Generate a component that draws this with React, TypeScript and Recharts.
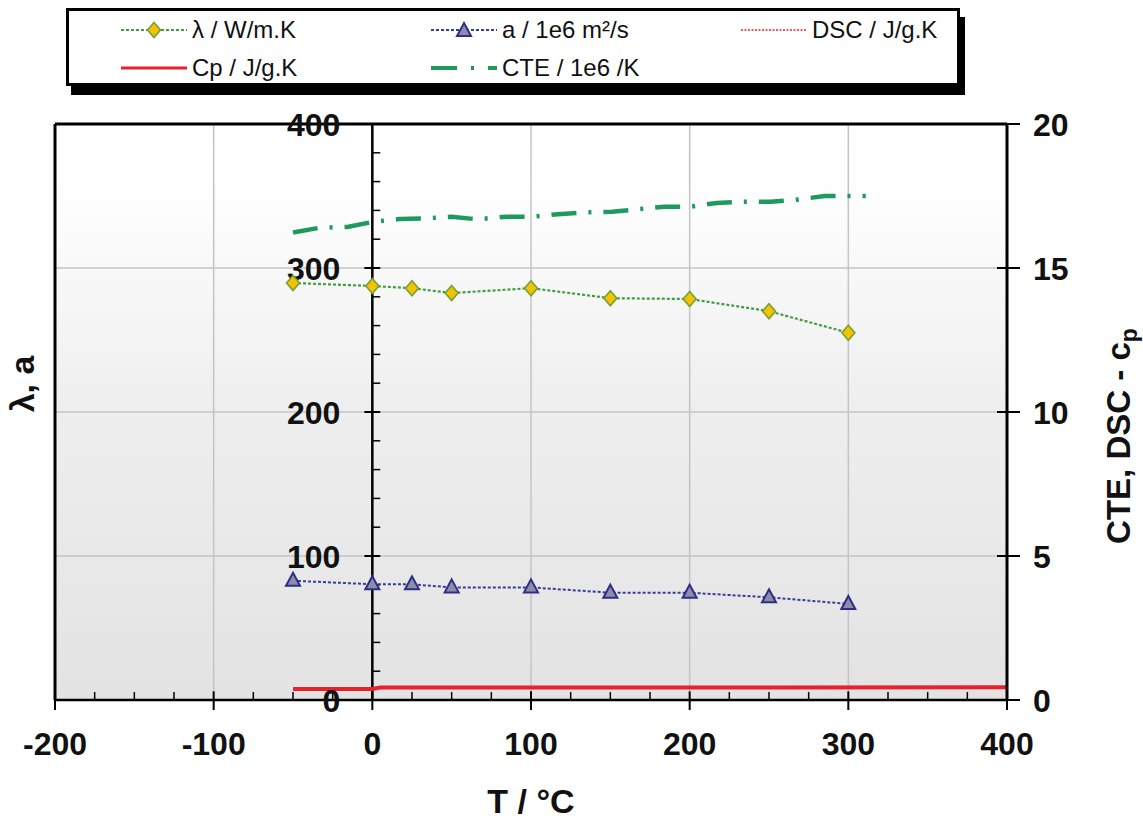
import React from 'react';
import {
  LineChart, Line, XAxis, YAxis, CartesianGrid, ReferenceLine, ReferenceDot, Legend, Label,
} from 'recharts';

// ---- data ----
const lambdaT = [-50, 0, 25, 50, 100, 150, 200, 250, 300];
const lambdaValues = [289.6, 287.5, 286, 282.6, 286, 279, 278.5, 270, 255];

const diffT = [-50, 0, 25, 50, 100, 150, 200, 250, 300];
const diffValues = [82.8, 80.4, 80.3, 78.2, 78.2, 74.5, 74.5, 71.3, 66.7];

const dscT = [-50, 400];
const dscValues = [-0.06, -0.06];

const cpT = [-50, 0, 5, 400];
const cpValues = [0.38, 0.38, 0.43, 0.44];

const cteT = [-50, -33, -15, 0, 17, 32, 50, 66, 84, 100, 117, 134, 151, 165, 184, 201, 217, 234, 251, 266, 285, 301, 311];
const cteValues = [16.23, 16.4, 16.43, 16.6, 16.7, 16.72, 16.78, 16.69, 16.78, 16.78, 16.87, 16.93, 16.95, 17.03, 17.13, 17.13, 17.26, 17.3, 17.3, 17.36, 17.5, 17.5, 17.5];

// ---- ticks ----
const xTicks = [-200, -100, 0, 100, 200, 300, 400];
const xMinorTicks = [-175, -150, -125, -75, -50, -25, 25, 50, 75, 125, 150, 175, 225, 250, 275, 325, 350, 375];
const leftTicks = [0, 100, 200, 300, 400];
const leftMinorTicks = [20, 40, 60, 80, 120, 140, 160, 180, 220, 240, 260, 280, 320, 340, 360, 380];
const rightTicks = [0, 5, 10, 15, 20];

const toPoints = (xs: number[], ys: number[]) => xs.map((x, i) => ({ x, y: ys[i] }));

const lambdaData = toPoints(lambdaT, lambdaValues);
const diffData = toPoints(diffT, diffValues);
const dscData = toPoints(dscT, dscValues);
const cpData = toPoints(cpT, cpValues);
const cteData = toPoints(cteT, cteValues);

const FONT = '"Liberation Sans", Arial, sans-serif';
const GREEN_DOT = '#3f9f3f';
const NAVY = '#3a3a9c';
const RED = '#e8212b';
const CTE_GREEN = '#1f9a5e';
const TICK_FS = 32;

const Diamond = (props: any) => {
  const { cx, cy } = props;
  if (cx == null || cy == null) return <g />;
  return (
    <path
      d={`M${cx},${cy - 7.5} L${cx + 6.5},${cy} L${cx},${cy + 7.5} L${cx - 6.5},${cy} Z`}
      fill="#f3c300" stroke="#76a03a" strokeWidth={1.6}
    />
  );
};

const Triangle = (props: any) => {
  const { cx, cy } = props;
  if (cx == null || cy == null) return <g />;
  return (
    <path
      d={`M${cx},${cy - 8} L${cx + 7},${cy + 5} L${cx - 7},${cy + 5} Z`}
      fill="#8d8dab" stroke="#2e2e86" strokeWidth={2}
    />
  );
};

const RightTick = (props: any) => {
  const { x, y, payload } = props;
  return (
    <g>
      <line x1={x - 36} y1={y} x2={x - 13} y2={y} stroke="#000" strokeWidth={2} />
      <text x={x} y={y} dy="0.36em" textAnchor="start" fontSize={TICK_FS} fontWeight="bold" fontFamily={FONT} fill="#111">
        {payload.value}
      </text>
    </g>
  );
};

const legendRow1 = [
  { name: 'λ / W/m.K', kind: 'lambda', col: 0 },
  { name: 'a / 1e6 m²/s', kind: 'diff', col: 1 },
  { name: 'DSC / J/g.K', kind: 'dsc', col: 2 },
];
const legendRow2 = [
  { name: 'Cp / J/g.K', kind: 'cp', col: 0 },
  { name: 'CTE / 1e6 /K', kind: 'cte', col: 1 },
];

const Sample = ({ kind }: { kind: string }) => {
  const w = 66;
  const h = 20;
  const m = h / 2;
  let el: React.ReactNode = null;
  if (kind === 'lambda') {
    el = (
      <>
        <line x1={0} y1={m} x2={w} y2={m} stroke={GREEN_DOT} strokeWidth={2} strokeDasharray="3 2" />
        <Diamond cx={w / 2} cy={m} />
      </>
    );
  } else if (kind === 'diff') {
    el = (
      <>
        <line x1={0} y1={m} x2={w} y2={m} stroke={NAVY} strokeWidth={2} strokeDasharray="3 2" />
        <Triangle cx={w / 2} cy={m + 1} />
      </>
    );
  } else if (kind === 'dsc') {
    el = <line x1={0} y1={m} x2={w} y2={m} stroke={RED} strokeWidth={1.6} strokeDasharray="2 1.5" />;
  } else if (kind === 'cp') {
    el = <line x1={0} y1={m} x2={w} y2={m} stroke={RED} strokeWidth={3} />;
  } else {
    el = <line x1={0} y1={m} x2={w} y2={m} stroke={CTE_GREEN} strokeWidth={4} strokeDasharray="26 14 3 14" />;
  }
  return <svg width={w} height={h} style={{ display: 'block' }}>{el}</svg>;
};

const colLeft = [52, 362, 672];

const LegendBox = () => {
  const row = (items: typeof legendRow1, top: number) =>
    items.map((it) => (
      <div
        key={it.name}
        style={{ position: 'absolute', left: colLeft[it.col], top, display: 'flex', alignItems: 'center', height: 28 }}
      >
        <Sample kind={it.kind} />
        <span style={{ marginLeft: 5, fontSize: 24, fontFamily: FONT, color: '#111', whiteSpace: 'nowrap' }}>{it.name}</span>
      </div>
    ));
  return (
    <div
      style={{
        position: 'relative', width: 888, height: 72, border: '3px solid #000', background: '#fff',
        boxShadow: '5px 9px 0 #000', boxSizing: 'content-box',
      }}
    >
      {row(legendRow1, 5)}
      {row(legendRow2, 43)}
    </div>
  );
};

const LeftTickLabel = (value: number) => (props: any) => {
  const vb = props.viewBox || {};
  const x = vb.x ?? 0;
  const y = vb.y ?? 0;
  return (
    <text x={x - 32} y={y} dy="0.36em" textAnchor="end" fontSize={TICK_FS} fontWeight="bold" fontFamily={FONT} fill="#111">
      {value}
    </text>
  );
};

export default function App() {
  return (
    <div style={{ position: 'absolute', left: 0, top: 0, width: 1143, height: 821, background: '#fff' }}>
      <LineChart width={1143} height={821} margin={{ top: 124, right: 0, bottom: 0, left: 0 }}>
        <defs>
          <linearGradient id="plotBg" x1="0" y1="0" x2="0" y2="1">
            <stop offset="0%" stopColor="#ffffff" />
            <stop offset="15%" stopColor="#fdfdfd" />
            <stop offset="50%" stopColor="#eeeeee" />
            <stop offset="100%" stopColor="#e3e3e3" />
          </linearGradient>
        </defs>
        <CartesianGrid
          yAxisId="right"
          fill="url(#plotBg)"
          fillOpacity={1}
          stroke="#c4c4c4"
          strokeWidth={1.5}
        />
        <XAxis
          type="number"
          dataKey="x"
          domain={[-200, 400]}
          ticks={xTicks}
          allowDataOverflow
          height={121}
          axisLine={{ stroke: '#000', strokeWidth: 2.5 }}
          tickLine={{ stroke: '#000', strokeWidth: 2 }}
          tickSize={10}
          tickMargin={22}
          tick={{ fontSize: TICK_FS, fontWeight: 'bold', fontFamily: FONT, fill: '#111' }}
        >
          <Label
            content={(p: any) => {
              const vb = p.viewBox;
              return (
                <text x={vb.x + vb.width / 2} y={vb.y + 113} textAnchor="middle" fontSize={34} fontWeight="bold" fontFamily={FONT} fill="#111">
                  T / °C
                </text>
              );
            }}
          />
        </XAxis>
        <YAxis
          yAxisId="left"
          type="number"
          domain={[0, 400]}
          ticks={leftTicks}
          allowDataOverflow
          width={55}
          tick={false}
          tickLine={false}
          axisLine={{ stroke: '#000', strokeWidth: 3 }}
        >
          <Label
            content={(p: any) => {
              const vb = p.viewBox;
              const cx = vb.x + 22;
              const cy = vb.y + vb.height / 2 - 28;
              return (
                <text x={cx} y={cy} transform={`rotate(-90 ${cx} ${cy})`} textAnchor="middle" dy="0.36em" fontSize={34} fontWeight="bold" fontFamily={FONT} fill="#111">
                  λ,  a
                </text>
              );
            }}
          />
        </YAxis>
        <YAxis
          yAxisId="right"
          orientation="right"
          type="number"
          domain={[0, 20]}
          ticks={rightTicks}
          allowDataOverflow
          width={136}
          tickSize={13}
          tickMargin={13}
          tickLine={false}
          axisLine={{ stroke: '#000', strokeWidth: 3 }}
          tick={<RightTick />}
        >
          <Label
            content={(p: any) => {
              const vb = p.viewBox;
              const cx = vb.x + 111;
              const cy = vb.y + vb.height / 2 + 24;
              return (
                <text x={cx} y={cy} transform={`rotate(-90 ${cx} ${cy})`} textAnchor="middle" dy="0.36em" fontSize={33} fontWeight="bold" fontFamily={FONT} fill="#111">
                  CTE, DSC - c<tspan fontSize={23} dy="0.3em">p</tspan>
                </text>
              );
            }}
          />
        </YAxis>

        {/* top frame */}
        <ReferenceLine yAxisId="left" y={400} stroke="#000" strokeWidth={3} />
        {/* left value axis drawn at T = 0 */}
        <ReferenceLine yAxisId="left" x={0} stroke="#000" strokeWidth={2.5} />
        {leftTicks.map((v) => (
          <ReferenceLine key={`lt${v}`} yAxisId="left" segment={[{ x: -5, y: v }, { x: 5, y: v }]} stroke="#000" strokeWidth={2} />
        ))}
        {leftMinorTicks.map((v) => (
          <ReferenceLine key={`lm${v}`} yAxisId="left" segment={[{ x: 0, y: v }, { x: 5, y: v }]} stroke="#000" strokeWidth={1.5} />
        ))}
        {leftTicks.map((v) => (
          <ReferenceDot key={`ll${v}`} yAxisId="left" x={0} y={v} r={0} fill="none" stroke="none" label={LeftTickLabel(v)} />
        ))}
        {xTicks.map((v) => (
          <ReferenceLine key={`xt${v}`} yAxisId="left" segment={[{ x: v, y: 0 }, { x: v, y: 6 }]} stroke="#000" strokeWidth={2} />
        ))}
        {xMinorTicks.map((v) => (
          <ReferenceLine key={`xm${v}`} yAxisId="left" segment={[{ x: v, y: 0 }, { x: v, y: 5.5 }]} stroke="#000" strokeWidth={1.5} />
        ))}

        <Legend
          verticalAlign="middle"
          align="center"
          layout="horizontal"
          wrapperStyle={{ left: 66, top: 8, width: 900, height: 92 }}
          content={() => <LegendBox />}
        />

        <Line
          yAxisId="left" data={lambdaData} dataKey="y" name="λ / W/m.K" type="linear"
          stroke={GREEN_DOT} strokeWidth={2.2} strokeDasharray="3 2" dot={<Diamond />} activeDot={false}
          isAnimationActive={false}
        />
        <Line
          yAxisId="left" data={diffData} dataKey="y" name="a / 1e6 m²/s" type="linear"
          stroke={NAVY} strokeWidth={2} strokeDasharray="3 2" dot={<Triangle />} activeDot={false}
          isAnimationActive={false}
        />
        <Line
          yAxisId="right" data={dscData} dataKey="y" name="DSC / J/g.K" type="linear"
          stroke={RED} strokeWidth={1.5} strokeDasharray="2 1.5" dot={false} activeDot={false}
          isAnimationActive={false}
        />
        <Line
          yAxisId="right" data={cpData} dataKey="y" name="Cp / J/g.K" type="linear"
          stroke={RED} strokeWidth={4} dot={false} activeDot={false}
          isAnimationActive={false}
        />
        <Line
          yAxisId="right" data={cteData} dataKey="y" name="CTE / 1e6 /K" type="linear"
          stroke={CTE_GREEN} strokeWidth={4.5} strokeDasharray="25 12 3 12" dot={false} activeDot={false}
          isAnimationActive={false}
        />
      </LineChart>
    </div>
  );
}
